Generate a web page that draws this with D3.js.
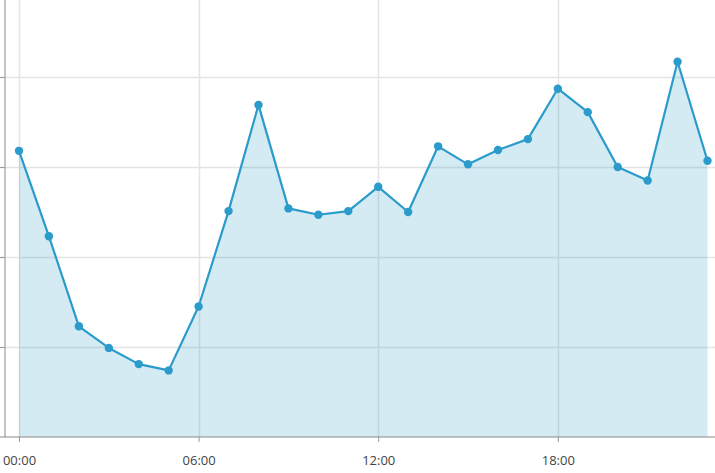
<!DOCTYPE html>
<html>
<head>
<meta charset="utf-8">
<script src="https://cdn.jsdelivr.net/npm/d3@7"></script>
<style>
  html, body { margin: 0; padding: 0; background: #fff; }
  svg { display: block; }
</style>
</head>
<body>
<svg id="chart" width="715" height="473"></svg>
<script>
const hours = ["00:00","01:00","02:00","03:00","04:00","05:00","06:00","07:00","08:00","09:00","10:00","11:00",
               "12:00","13:00","14:00","15:00","16:00","17:00","18:00","19:00","20:00","21:00","22:00","23:00"];
const values = [31.8, 22.3, 12.3, 9.9, 8.1, 7.4, 14.5, 25.1, 36.9, 25.4, 24.7, 25.1,
                27.8, 25.0, 32.3, 30.3, 31.9, 33.1, 38.7, 36.1, 30.0, 28.5, 41.7, 30.7];
const xTickLabels = ["00:00", "06:00", "12:00", "18:00"];
const yTicks = [10, 20, 30, 40];

const svg = d3.select("#chart");
const W = 715, H = 473;
const x0 = 19, x1 = 707.5, yBottom = 437, yTop = 0;
const yMax = 48.56;

const x = d3.scaleLinear().domain([0, hours.length - 1]).range([x0, x1]);
const y = d3.scaleLinear().domain([0, yMax]).range([yBottom, yTop]);

const data = hours.map((h, i) => ({ h, i, v: values[i] }));
const tickIdx = xTickLabels.map(l => hours.indexOf(l));

// horizontal gridlines
svg.append("g")
  .selectAll("line").data(yTicks).join("line")
  .attr("x1", 0).attr("x2", W)
  .attr("y1", d => Math.round(y(d)) + 0.5).attr("y2", d => Math.round(y(d)) + 0.5)
  .attr("stroke", "#e4e4e4").attr("stroke-width", 1.5);

// vertical gridlines
svg.append("g")
  .selectAll("line").data(tickIdx).join("line")
  .attr("x1", d => Math.round(x(d)) + 0.5).attr("x2", d => Math.round(x(d)) + 0.5)
  .attr("y1", 0).attr("y2", yBottom)
  .attr("stroke", "#e4e4e4").attr("stroke-width", 1.5);

// area
const area = d3.area().x(d => x(d.i)).y0(y(0)).y1(d => y(d.v));
svg.append("path").datum(data)
  .attr("d", area)
  .attr("fill", "#2a9bca").attr("fill-opacity", 0.2);

// y axis (left)
const yAxis = d3.axisLeft(y).tickValues(yTicks).tickSize(5).tickFormat("");
const gy = svg.append("g").attr("transform", "translate(5,0)").call(yAxis);
gy.select(".domain").attr("stroke", "#c4c4c4").attr("stroke-width", 2)
  .attr("d", `M0,0V${yBottom}`);
gy.selectAll(".tick line").attr("stroke", "#999");

// x axis
const xAxis = d3.axisBottom(x).tickValues(tickIdx).tickSize(5).tickPadding(14)
  .tickFormat(i => hours[i]);
const gx = svg.append("g").attr("transform", `translate(0,${yBottom})`).call(xAxis);
gx.select(".domain").attr("stroke", "#8a8a8a").attr("stroke-width", 1.2)
  .attr("d", `M0,0H${W}`);
gx.selectAll(".tick line").attr("stroke", "#999");
gx.selectAll(".tick text")
  .attr("fill", "#444").attr("font-size", "13px")
  .attr("font-family", "'Open Sans', 'Noto Sans', sans-serif");

// line
const line = d3.line().x(d => x(d.i)).y(d => y(d.v));
svg.append("path").datum(data)
  .attr("d", line)
  .attr("fill", "none").attr("stroke", "#2a9bca").attr("stroke-width", 2.2)
  .attr("stroke-linejoin", "round");

// points
svg.append("g")
  .selectAll("circle").data(data).join("circle")
  .attr("cx", d => x(d.i)).attr("cy", d => y(d.v))
  .attr("r", 4.2).attr("fill", "#2a9bca");
</script>
</body>
</html>
